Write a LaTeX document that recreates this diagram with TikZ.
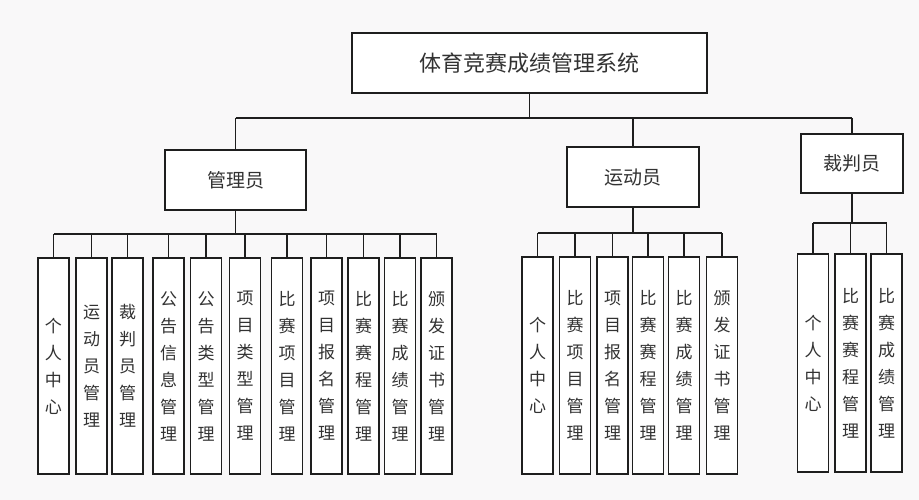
\documentclass[tikz,border=0pt]{standalone}
\usepackage{fontspec}
\newfontfamily\cjk{Noto Sans CJK SC}
\definecolor{bg}{RGB}{249,248,249}
\definecolor{ink}{RGB}{30,30,30}
\definecolor{txt}{RGB}{50,50,50}
\tikzset{
  box/.style={draw=ink, line width=1.6pt, fill=white, inner sep=0pt, text=txt},
  topbox/.style={box, minimum width=355pt, minimum height=60pt, font=\cjk\fontsize{22}{26}\selectfont},
  rolebox/.style={box, minimum height=60pt, font=\cjk\fontsize{19}{23}\selectfont},
  leaf/.style={box, minimum width=31pt, align=center, font=\cjk\fontsize{17}{27}\selectfont},
  conn/.style={draw=ink, line width=1.6pt}
}
\begin{document}
\begin{tikzpicture}[x=1pt,y=-1pt]
\useasboundingbox (0,0) rectangle (919,500);
\fill[bg] (0,0) rectangle (919,500);

% top level
\node[topbox] (sys) at (529.5,63) {体育竞赛成绩管理系统};
\node[rolebox, minimum width=141pt] (adm) at (235.5,180) {管理员};
\node[rolebox, minimum width=132pt] (ath) at (633,177) {运动员};
\node[rolebox, minimum width=102pt, minimum height=59pt] (ref) at (852,163.5) {裁判员};

\coordinate (mainbus) at (530,118);
\draw[conn] (sys.south) -- (sys.south |- mainbus);
\draw[conn] (adm.north |- mainbus) -- (ref.north |- mainbus);
\draw[conn] (adm.north) -- (adm.north |- mainbus);
\draw[conn] (ath.north) -- (ath.north |- mainbus);
\draw[conn] (ref.north) -- (ref.north |- mainbus);

% admin leaves
\foreach \n/\x/\t in {1/53.5/{个\\人\\中\\心},
                      2/91.5/{运\\动\\员\\管\\理},
                      3/127.5/{裁\\判\\员\\管\\理},
                      4/168.5/{公\\告\\信\\息\\管\\理},
                      5/206/{公\\告\\类\\型\\管\\理},
                      6/245/{项\\目\\类\\型\\管\\理},
                      7/287/{比\\赛\\项\\目\\管\\理},
                      8/326.5/{项\\目\\报\\名\\管\\理},
                      9/363.5/{比\\赛\\赛\\程\\管\\理},
                      10/400/{比\\赛\\成\\绩\\管\\理},
                      11/436.5/{颁\\发\\证\\书\\管\\理}}
  \node[leaf, minimum height=216pt] (a\n) at (\x,366) {\t};
\coordinate (abus) at (235.5,234);
\draw[conn] (adm.south) -- (adm.south |- abus);
\draw[conn] (a1.north |- abus) -- (a11.north |- abus);
\foreach \n in {1,...,11} \draw[conn] (a\n.north) -- (a\n.north |- abus);

% athlete leaves
\foreach \n/\x/\t in {1/537.5/{个\\人\\中\\心},
                      2/575/{比\\赛\\项\\目\\管\\理},
                      3/612.5/{项\\目\\报\\名\\管\\理},
                      4/648/{比\\赛\\赛\\程\\管\\理},
                      5/684/{比\\赛\\成\\绩\\管\\理},
                      6/722/{颁\\发\\证\\书\\管\\理}}
  \node[leaf, minimum height=217pt] (b\n) at (\x,365.5) {\t};
\coordinate (bbus) at (633,233);
\draw[conn] (ath.south) -- (ath.south |- bbus);
\draw[conn] (b1.north |- bbus) -- (b6.north |- bbus);
\foreach \n in {1,...,6} \draw[conn] (b\n.north) -- (b\n.north |- bbus);

% referee leaves
\foreach \n/\x/\t in {1/813/{个\\人\\中\\心},
                      2/850.5/{比\\赛\\赛\\程\\管\\理},
                      3/886.5/{比\\赛\\成\\绩\\管\\理}}
  \node[leaf, minimum height=218pt] (c\n) at (\x,363) {\t};
\coordinate (cbus) at (851,223);
\draw[conn] (ref.south) -- (ref.south |- cbus);
\draw[conn] (c1.north |- cbus) -- (c3.north |- cbus);
\foreach \n in {1,...,3} \draw[conn] (c\n.north) -- (c\n.north |- cbus);
\end{tikzpicture}
\end{document}
